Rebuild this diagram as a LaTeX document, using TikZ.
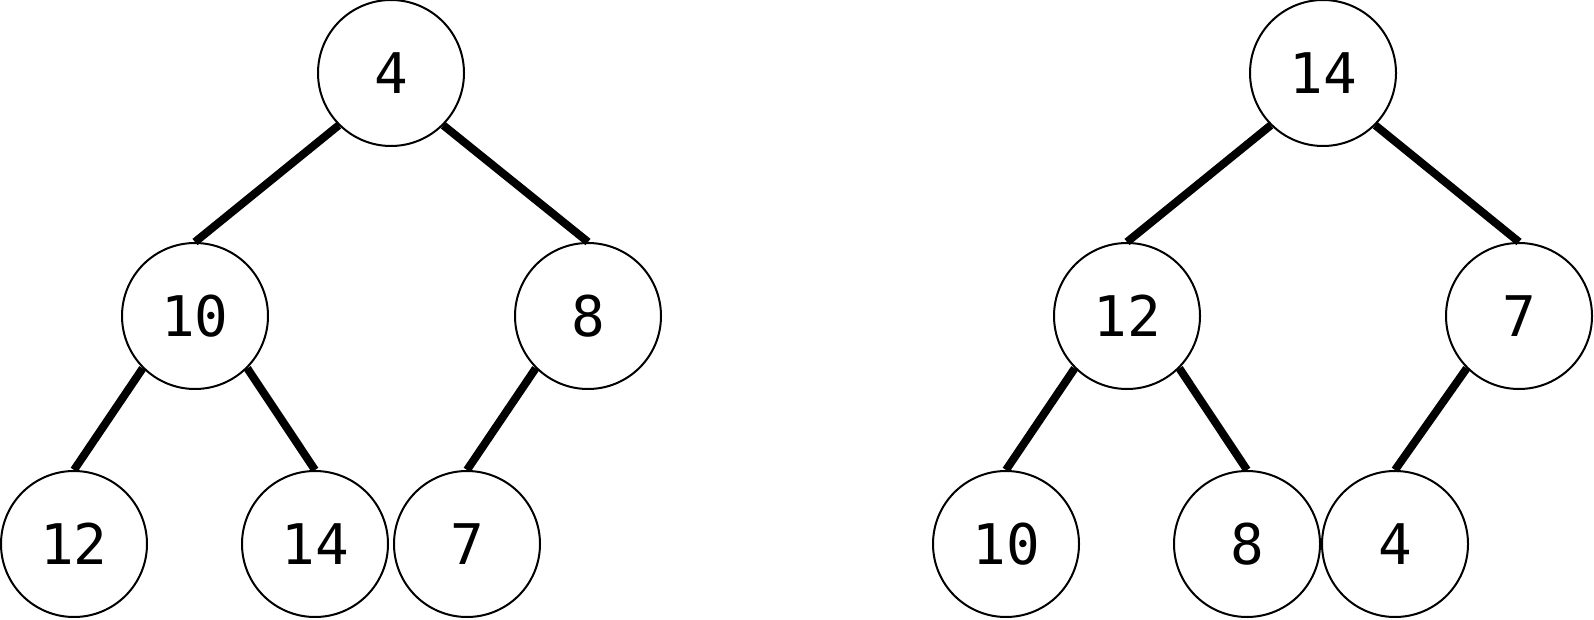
\documentclass[tikz,border=0pt]{standalone}
\usepackage{fontspec}
\usepackage{xcolor}
\usepackage{tikz}
\setmonofont{DejaVu Sans Mono}
\definecolor{ink}{HTML}{000000}
\definecolor{paper}{HTML}{FFFFFF}
\tikzset{
  heapnode/.style={circle,draw=ink,line width=1pt,fill=paper,inner sep=0pt,
    minimum size=73pt,font=\ttfamily\fontsize{28}{28}\selectfont},
  heapedge/.style={draw=ink,line width=4pt}
}

\begin{document}
\begin{tikzpicture}[x=0.5pt,y=-0.5pt]
    \useasboundingbox (0,0) rectangle (1594,620);
    % before
    \node[heapnode] (a4)  at (391,73)  {4};
    \node[heapnode] (a10) at (195,316) {10};
    \node[heapnode] (a8)  at (588,316) {8};
    \node[heapnode] (a12) at (74,544)  {12};
    \node[heapnode] (a14) at (315,544) {14};
    \node[heapnode] (a7)  at (467,544) {7};
    \draw[heapedge](a4.south west)--(a10.north);
    \draw[heapedge](a4.south east)--(a8.north);
    \draw[heapedge](a10.south west)--(a12.north);
    \draw[heapedge](a10.south east)--(a14.north);
    \draw[heapedge](a8.south west)--(a7.north);
    % after
    \node[heapnode] (b14) at (1323,73)  {14};
    \node[heapnode] (b12) at (1127,316) {12};
    \node[heapnode] (b7)  at (1519,316) {7};
    \node[heapnode] (b10) at (1006,544) {10};
    \node[heapnode] (b8)  at (1247,544) {8};
    \node[heapnode] (b4)  at (1395,544) {4};
    \draw[heapedge](b14.south west)--(b12.north);
    \draw[heapedge](b14.south east)--(b7.north);
    \draw[heapedge](b12.south west)--(b10.north);
    \draw[heapedge](b12.south east)--(b8.north);
    \draw[heapedge](b7.south west)--(b4.north);
  \end{tikzpicture}
\end{document}
